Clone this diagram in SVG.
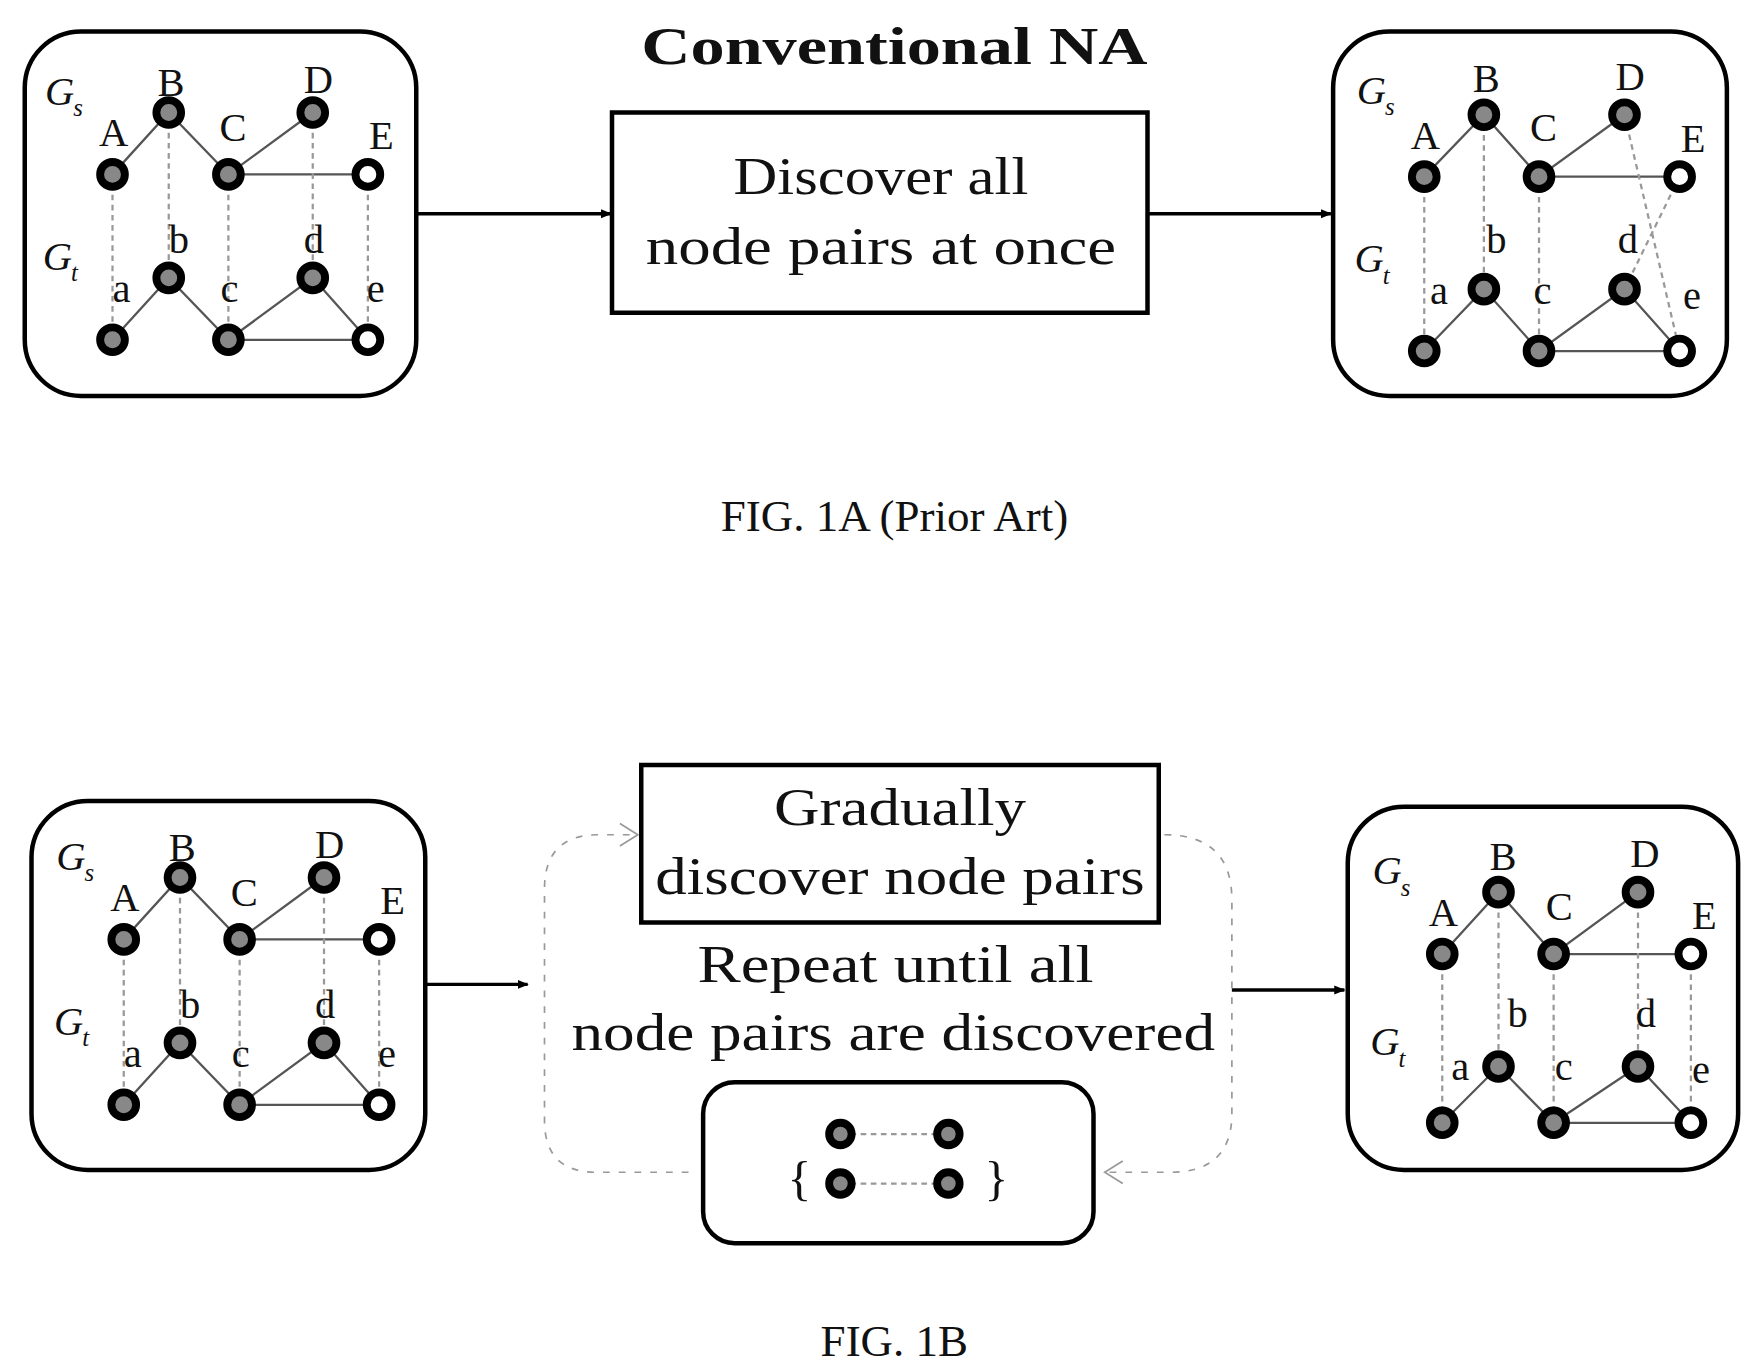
<svg xmlns="http://www.w3.org/2000/svg" width="1755" height="1370" viewBox="0 0 1755 1370">
<defs>
<style>
.t{font-family:"Liberation Serif",serif;fill:#111}
.lb{font-size:36px}
.g{font-size:36px;font-style:italic}
.big{font-size:46px;text-anchor:middle}
.frame{fill:none;stroke:#000;stroke-width:4}
.n{fill:#888;stroke:#000;stroke-width:7}
.w{fill:#fff;stroke:#000;stroke-width:7}
.e{stroke:#555;stroke-width:2;fill:none}
.al{stroke:#999;stroke-width:2;stroke-dasharray:5 4;fill:none}
.ar{stroke:#000;stroke-width:3;fill:none;marker-end:url(#ah)}
.loop{stroke:#999;stroke-width:1.5;stroke-dasharray:6 8;fill:none}
</style>
<marker id="ah" markerWidth="10" markerHeight="10" refX="9" refY="5" orient="auto" markerUnits="userSpaceOnUse"><path d="M0,1 L10,5 L0,9 Z" fill="#000"/></marker>
<marker id="oa" markerWidth="20" markerHeight="24" refX="18" refY="12" orient="auto" markerUnits="userSpaceOnUse"><path d="M2,2 L18,12 L2,22" fill="none" stroke="#999" stroke-width="1.5"/></marker>
<g id="graphL">
<path class="e" d="M0,0 L50,-55 L103,0 L178,-55 M103,0 L227,0"/>
<path class="e" d="M0,147 L50,92 L103,147 L178,92 L227,147 M103,147 L227,147"/>
<path class="al" d="M0,0 V147 M50,-55 V92 M103,0 V147 M178,-55 V92 M227,0 V147"/>
<circle class="n" cx="0" cy="0" r="11"/><circle class="n" cx="50" cy="-55" r="11"/><circle class="n" cx="103" cy="0" r="11"/><circle class="n" cx="178" cy="-55" r="11"/><circle class="w" cx="227" cy="0" r="11"/>
<circle class="n" cx="0" cy="147" r="11"/><circle class="n" cx="50" cy="92" r="11"/><circle class="n" cx="103" cy="147" r="11"/><circle class="n" cx="178" cy="92" r="11"/><circle class="w" cx="227" cy="147" r="11"/>
<g class="t lb">
<text class="g" x="-60" y="-62">G</text><text x="-35" y="-52" font-size="22" font-style="italic">s</text>
<text x="-12" y="-25">A</text><text x="40" y="-70">B</text><text x="95" y="-30">C</text><text x="170" y="-72">D</text><text x="228" y="-23">E</text>
<text class="g" x="-62" y="85">G</text><text x="-37" y="95" font-size="22" font-style="italic">t</text>
<text x="0" y="113">a</text><text x="50" y="70">b</text><text x="96" y="113">c</text><text x="170" y="70">d</text><text x="226" y="113">e</text>
</g>
</g>
</defs>
<g transform="scale(1.125)">
<g id="fig1a">
<g id="srcA"><rect class="frame" x="22" y="28" width="348" height="324" rx="50"/><use href="#graphL" transform="translate(100,155)"/></g>
<text class="t" x="795" y="57" font-size="46" font-weight="bold" text-anchor="middle" textLength="450" lengthAdjust="spacingAndGlyphs">Conventional NA</text>
<g id="procA"><rect class="frame" x="544" y="100" width="476" height="178"/>
<text class="t big" x="783" y="172" textLength="262" lengthAdjust="spacingAndGlyphs">Discover all</text><text class="t big" x="783" y="235" textLength="418" lengthAdjust="spacingAndGlyphs">node pairs at once</text></g>
<g id="resA"><rect class="frame" x="1185" y="28" width="350" height="324" rx="50"/>
<g transform="translate(1266,157)">
<path class="e" d="M0,0 L53,-55 L102,0 L178,-55 M102,0 L227,0"/>
<path class="e" d="M0,155 L53,100 L102,155 L178,100 L227,155 M102,155 L227,155"/>
<path class="al" d="M0,0 V155 M53,-55 V100 M102,0 V155 M178,-55 L227,155 M227,0 L178,100"/>
<circle class="n" cx="0" cy="0" r="11"/><circle class="n" cx="53" cy="-55" r="11"/><circle class="n" cx="102" cy="0" r="11"/><circle class="n" cx="178" cy="-55" r="11"/><circle class="w" cx="227" cy="0" r="11"/>
<circle class="n" cx="0" cy="155" r="11"/><circle class="n" cx="53" cy="100" r="11"/><circle class="n" cx="102" cy="155" r="11"/><circle class="n" cx="178" cy="100" r="11"/><circle class="w" cx="227" cy="155" r="11"/>
<g class="t lb">
<text class="g" x="-60" y="-65">G</text><text x="-35" y="-55" font-size="22" font-style="italic">s</text>
<text x="-12" y="-25">A</text><text x="43" y="-75">B</text><text x="94" y="-32">C</text><text x="170" y="-77">D</text><text x="228" y="-22">E</text>
<text class="g" x="-62" y="85">G</text><text x="-37" y="95" font-size="22" font-style="italic">t</text>
<text x="5" y="113">a</text><text x="55" y="68">b</text><text x="97" y="113">c</text><text x="172" y="68">d</text><text x="230" y="118">e</text>
</g></g></g>
<text class="t" x="795" y="472" font-size="40" text-anchor="middle">FIG. 1A (Prior Art)</text>
</g>
<g id="fig1b">
<g id="srcB"><rect class="frame" x="28" y="712" width="350" height="328" rx="50"/><use href="#graphL" transform="translate(110,835)"/></g>
<g id="procB"><rect class="frame" x="570" y="680" width="460" height="140"/>
<text class="t big" x="800" y="733" textLength="224" lengthAdjust="spacingAndGlyphs">Gradually</text><text class="t big" x="800" y="795" textLength="435" lengthAdjust="spacingAndGlyphs">discover node pairs</text></g>
<text class="t big" x="796" y="873" textLength="352" lengthAdjust="spacingAndGlyphs">Repeat until all</text><text class="t big" x="794" y="933" textLength="572" lengthAdjust="spacingAndGlyphs">node pairs are discovered</text>
<g id="pairs"><rect class="frame" x="625" y="962" width="347" height="143" rx="28"/>
<path class="al" d="M747,1008 H843 M747,1052 H843" stroke-dasharray="3 3"/>
<circle class="n" cx="747" cy="1008" r="10"/><circle class="n" cx="843" cy="1008" r="10"/><circle class="n" cx="747" cy="1052" r="10"/><circle class="n" cx="843" cy="1052" r="10"/>
<text class="t" x="700" y="1062" font-size="44" fill="#666">{</text><text class="t" x="875" y="1062" font-size="44" fill="#666">}</text></g>
<g id="resB"><rect class="frame" x="1198" y="717" width="347" height="323" rx="50"/>
<g transform="translate(1282,848)">
<path class="e" d="M0,0 L50,-55 L99,0 L174,-55 M99,0 L221,0"/>
<path class="e" d="M0,150 L50,100 L99,150 L174,100 L221,150 M99,150 L221,150"/>
<path class="al" d="M0,0 V150 M50,-55 V100 M99,0 V150 M174,-55 V100 M221,0 V150"/>
<circle class="n" cx="0" cy="0" r="11"/><circle class="n" cx="50" cy="-55" r="11"/><circle class="n" cx="99" cy="0" r="11"/><circle class="n" cx="174" cy="-55" r="11"/><circle class="w" cx="221" cy="0" r="11"/>
<circle class="n" cx="0" cy="150" r="11"/><circle class="n" cx="50" cy="100" r="11"/><circle class="n" cx="99" cy="150" r="11"/><circle class="n" cx="174" cy="100" r="11"/><circle class="w" cx="221" cy="150" r="11"/>
<g class="t lb">
<text class="g" x="-62" y="-62">G</text><text x="-37" y="-52" font-size="22" font-style="italic">s</text>
<text x="-12" y="-25">A</text><text x="42" y="-75">B</text><text x="92" y="-30">C</text><text x="167" y="-77">D</text><text x="222" y="-22">E</text>
<text class="g" x="-64" y="90">G</text><text x="-39" y="100" font-size="22" font-style="italic">t</text>
<text x="8" y="112">a</text><text x="58" y="65">b</text><text x="100" y="112">c</text><text x="172" y="65">d</text><text x="222" y="115">e</text>
</g></g></g>
<text class="t" x="795" y="1205" font-size="40" text-anchor="middle">FIG. 1B</text>
</g>
<g id="connectors">
<path class="ar" d="M370,190 H543"/>
<path class="ar" d="M1020,190 H1183"/>
<path class="ar" d="M378,875 H469"/>
<path class="ar" d="M1095,880 H1195"/>
<path class="loop" marker-end="url(#oa)" d="M612,1042 H530 Q484,1042 484,996 V790 Q484,742 532,742 H567"/>
<path class="loop" marker-end="url(#oa)" d="M1035,742 Q1095,742 1095,800 V990 Q1095,1042 1040,1042 H982"/>
</g>
</g>
</svg>
